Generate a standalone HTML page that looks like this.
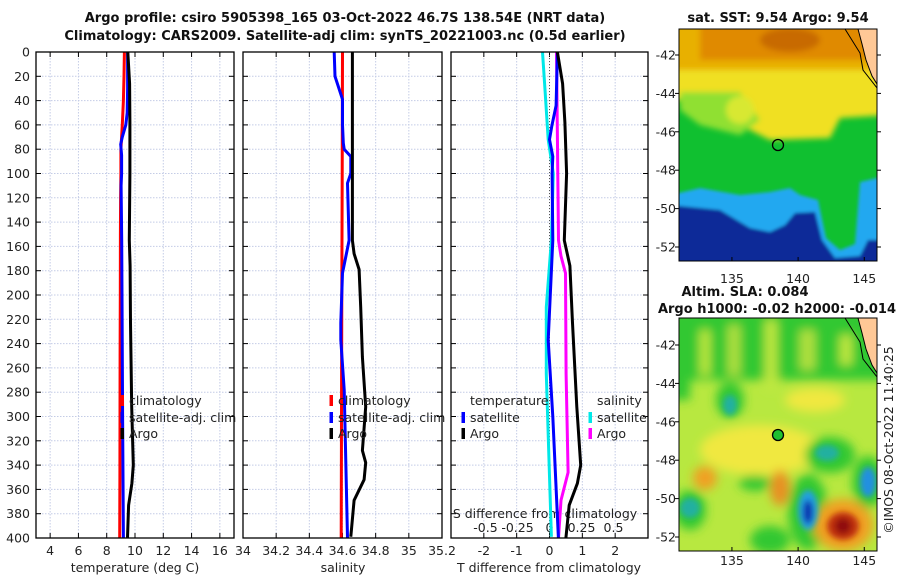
<!DOCTYPE html>
<html><head><meta charset="utf-8">
<style>
body{margin:0;background:#fff;}
svg text{font-family:"DejaVu Sans","Liberation Sans",sans-serif;fill:#222;}
.t{font-size:12.5px;}
.b{font-weight:bold;font-size:13px;fill:#111;}
</style></head>
<body>
<svg id="fig" width="900" height="580" viewBox="0 0 900 580" xmlns="http://www.w3.org/2000/svg">
<defs>
 <filter id="bl" x="-20%" y="-20%" width="140%" height="140%"><feGaussianBlur stdDeviation="3"/></filter>
 <filter id="bl1" x="-20%" y="-20%" width="140%" height="140%"><feGaussianBlur stdDeviation="1.5"/></filter>
 <filter id="bl2" x="-20%" y="-20%" width="140%" height="140%"><feGaussianBlur stdDeviation="5"/></filter>
 <clipPath id="c1"><rect x="679" y="29" width="198" height="232"/></clipPath>
 <clipPath id="c2"><rect x="679" y="318" width="198" height="233"/></clipPath>
</defs>
<text class="b" x="345" y="22" text-anchor="middle">Argo profile: csiro 5905398_165 03-Oct-2022 46.7S 138.54E (NRT data)</text>
<text class="b" x="345" y="40" text-anchor="middle">Climatology: CARS2009. Satellite-adj clim: synTS_20221003.nc (0.5d earlier)</text>

<!-- SST map -->
<g>
<g clip-path="url(#c1)">
 <rect x="679" y="29" width="198" height="232" fill="#10c030"/>
 <g filter="url(#bl)">
  <rect x="670" y="20" width="220" height="75" fill="#e8b000"/>
  <rect x="700" y="20" width="170" height="40" fill="#e08a00"/>
  <ellipse cx="790" cy="40" rx="30" ry="12" fill="#c86a00"/>
  <path d="M670 70 L890 70 L890 115 L840 118 L830 138 L770 140 L740 125 L720 110 L700 100 L670 100 Z" fill="#f0e020"/>
  <path d="M680 92 L740 92 L760 120 L740 135 L700 125 L680 110Z" fill="#90e030"/>
  <ellipse cx="740" cy="110" rx="14" ry="14" fill="#d8e830"/>
 </g>
 <g filter="url(#bl1)">
  <path d="M670 195 L700 188 L740 195 L770 192 L790 188 L800 195 L818 200 L826 238 L840 250 L855 244 L860 182 L890 175 L890 270 L670 270 Z" fill="#20a8f0"/>
  <path d="M670 205 L720 210 L750 228 L770 232 L785 225 L795 213 L815 212 L822 240 L835 258 L860 256 L868 240 L890 240 L890 270 L670 270Z" fill="#102a98"/>
 </g>
 <path d="M858 29 L877 29 L877 84 L872 76 L866 60 L862 44 Z" fill="#ffc896" stroke="#000" stroke-width="1"/>
 <path d="M845 29 L860 53 L863 70 L877 88" fill="none" stroke="#000" stroke-width="1"/>
 <circle cx="778" cy="145" r="5.5" fill="none" stroke="#000" stroke-width="1.3"/>
</g>
<rect x="679" y="29" width="198" height="232" fill="none" stroke="#000" stroke-width="1"/>
<text class="b" x="778" y="22" text-anchor="middle">sat. SST: 9.54 Argo: 9.54</text>
</g>

<!-- SLA map -->
<g>
<g clip-path="url(#c2)">
 <rect x="679" y="318" width="198" height="233" fill="#b8e840"/>
 <g filter="url(#bl2)">
  <rect x="670" y="310" width="220" height="70" fill="#30c830"/>
  <rect x="700" y="330" width="10" height="45" fill="#c0e840"/>
  <rect x="728" y="325" width="12" height="50" fill="#b0e040"/>
  <rect x="765" y="320" width="12" height="70" fill="#c0e840"/>
  <rect x="800" y="330" width="15" height="40" fill="#b0e040"/>
  <rect x="840" y="335" width="12" height="30" fill="#c0e840"/>
  <rect x="670" y="370" width="20" height="30" fill="#30c830"/>
  <ellipse cx="730" cy="400" rx="14" ry="18" fill="#30c830"/>
  <ellipse cx="815" cy="400" rx="30" ry="12" fill="#f0e840"/>
  <ellipse cx="760" cy="450" rx="60" ry="25" fill="#f0e840"/>
  <ellipse cx="830" cy="455" rx="25" ry="18" fill="#30c830"/>
  <ellipse cx="868" cy="482" rx="16" ry="26" fill="#30c830"/>
  <ellipse cx="808" cy="512" rx="20" ry="38" fill="#30c830"/>
  <ellipse cx="690" cy="510" rx="16" ry="20" fill="#30c830"/>
  <ellipse cx="755" cy="483" rx="16" ry="8" fill="#30c830"/>
  <ellipse cx="770" cy="540" rx="20" ry="14" fill="#30c830"/>
  <ellipse cx="705" cy="478" rx="12" ry="12" fill="#f0a020"/>
  <ellipse cx="780" cy="488" rx="10" ry="18" fill="#e89020"/>
  <ellipse cx="843" cy="525" rx="30" ry="26" fill="#f0a020"/>
 </g>
 <g filter="url(#bl)">
  <ellipse cx="730" cy="405" rx="7" ry="10" fill="#20b0a0"/>
  <ellipse cx="827" cy="453" rx="12" ry="8" fill="#20b0a0"/>
  <ellipse cx="868" cy="482" rx="8" ry="15" fill="#2090e0"/>
  <ellipse cx="690" cy="508" rx="10" ry="10" fill="#20b0a0"/>
  <ellipse cx="808" cy="510" rx="10" ry="20" fill="#20a0e0"/>
  <ellipse cx="808" cy="512" rx="5" ry="12" fill="#1030b0"/>
  <ellipse cx="843" cy="526" rx="16" ry="14" fill="#c03010"/>
  <ellipse cx="843" cy="526" rx="8" ry="8" fill="#901010"/>
 </g>
 <path d="M858 318 L877 318 L877 373 L872 365 L866 349 L862 333 Z" fill="#ffc896" stroke="#000" stroke-width="1"/>
 <path d="M845 318 L860 342 L863 359 L877 377" fill="none" stroke="#000" stroke-width="1"/>
 <circle cx="778" cy="435" r="5.5" fill="#20c030" stroke="#000" stroke-width="1.3"/>
</g>
<rect x="679" y="318" width="198" height="233" fill="none" stroke="#000" stroke-width="1"/>
<text class="b" x="745" y="296" text-anchor="middle">Altim. SLA: 0.084</text>
<text class="b" x="777" y="313" text-anchor="middle">Argo h1000: -0.02 h2000: -0.014</text>
</g>
<text class="t" x="0" y="0" transform="translate(893,440) rotate(-90)" text-anchor="middle">©IMOS 08-Oct-2022 11:40:25</text>

<g id="axes"></g>
</svg>
<script>
// ---- data ----
const depthTicks = [0,20,40,60,80,100,120,140,160,180,200,220,240,260,280,300,320,340,360,380,400];
const tempTicks = [4,6,8,10,12,14,16];
const salTicks = [34,34.2,34.4,34.6,34.8,35,35.2];
const salTickLabels = ["34","34.2","34.4","34.6","34.8","35","35.2"];
const tdiffTicks = [-2,-1,0,1,2];
const sdiffTicks = [-0.5,-0.25,0,0.25,0.5];
const sdiffTickLabels = ["-0.5","-0.25","0","0.25","0.5"];
const lonTicks = [135,140,145];
const latTicks = [-42,-44,-46,-48,-50,-52];

const tClimDepth = [0,20,40,60,70,80,100,120,150,200,250,300,350,400];
const tClim = [9.25,9.22,9.18,9.1,9.05,9.0,9.0,8.98,8.97,8.96,8.95,8.94,8.93,8.92];
const tSatDepth = [0,30,50,60,70,76,85,100,110,155,200,300,400];
const tSat = [9.48,9.48,9.45,9.35,9.1,8.99,9.05,9.05,9.02,9.06,9.08,9.12,9.18];
const tArgoDepth = [0,26,58,100,155,176,223,292,340,355,373,400];
const tArgo = [9.49,9.62,9.64,9.64,9.6,9.65,9.68,9.77,9.88,9.78,9.55,9.47];

const sClimDepth = [0,100,200,300,400];
const sClim = [34.600,34.598,34.596,34.594,34.592];
const sSatDepth = [0,20,39,60,75,80,86,100,108,155,182,223,237,278,400];
const sSat = [34.55,34.555,34.60,34.60,34.605,34.61,34.65,34.65,34.63,34.64,34.60,34.59,34.59,34.61,34.63];
const sArgoDepth = [0,155,166,179,210,251,292,328,338,352,369,399];
const sArgo = [34.66,34.66,34.67,34.70,34.71,34.72,34.74,34.72,34.74,34.73,34.67,34.65];

const dTSatDepth = [0,44,61,72,86,100,155,237,300,400];
const dTSat = [0.24,0.2,0.07,0.0,0.1,0.08,0.1,-0.04,0.1,0.27];
const dTArgoDepth = [0,26,58,100,155,176,223,292,340,355,373,400];
const dTArgo = [0.24,0.4,0.47,0.52,0.45,0.62,0.7,0.83,0.95,0.85,0.6,0.5];
const dSSatDepth = [0,31,72,100,155,210,265,399];
const dSSat = [-0.055,-0.035,-0.01,0.03,0.015,-0.025,-0.025,0.015];
const dSArgoDepth = [0,155,168,182,265,346,369,400];
const dSArgo = [0.055,0.07,0.09,0.125,0.13,0.145,0.09,0.07];

// ---- layout ----
const NS = "http://www.w3.org/2000/svg";
const g = document.getElementById('axes');
const TOP = 52, BOT = 538;
function yD(d){ return TOP + d/400*(BOT-TOP); }
function lin(d0,d1,r0,r1){ return v => r0 + (v-d0)/(d1-d0)*(r1-r0); }
const panels = [
 {x0:36,x1:234, sx: lin(3,17,36,234)},
 {x0:243,x1:442, sx: lin(34,35.2,243,442)},
 {x0:451,x1:648, sx: lin(-3,3,451,648)}
];
const sdx = lin(0,0.5,549.5,613.5);
function mk(tag, attrs, parent){
  const e = document.createElementNS(NS, tag);
  for (const k in attrs) e.setAttribute(k, attrs[k]);
  (parent||g).appendChild(e);
  return e;
}
function txt(x,y,s,anchor){
  const e = mk('text',{x:x,y:y,'text-anchor':anchor||'middle','class':'t'});
  e.textContent = s;
  return e;
}

panels.forEach((p,pi)=>{
  depthTicks.forEach(d=>{
    const l = mk('line',{x1:p.x0,x2:p.x1,y1:yD(d),y2:yD(d),stroke:'#c4cce6','stroke-width':1,'stroke-dasharray':'1.5 1.5'});
    
    
    mk('line',{x1:p.x0,x2:p.x0+5,y1:yD(d),y2:yD(d),stroke:'#000'});
    mk('line',{x1:p.x1-5,x2:p.x1,y1:yD(d),y2:yD(d),stroke:'#000'});
  });
});
depthTicks.forEach(d=>{
  const t = txt(30, yD(d)+4.5, String(d), 'end');
  
  
});
function xTicks(p, ticks, labels, name){
  ticks.forEach((v,i)=>{
    const x = p.sx(v);
    const l = mk('line',{x1:x,x2:x,y1:TOP,y2:BOT,stroke:'#c4cce6','stroke-width':1,'stroke-dasharray':'1.5 1.5'});
    
    
    mk('line',{x1:x,x2:x,y1:BOT-5,y2:BOT,stroke:'#000'});
    mk('line',{x1:x,x2:x,y1:TOP,y2:TOP+5,stroke:'#000'});
    const t = txt(x, 555, labels ? labels[i] : String(v));
    
    
  });
}
xTicks(panels[0], tempTicks, null, 'temperature-tick-label');
xTicks(panels[1], salTicks, salTickLabels, 'salinity-tick-label');
xTicks(panels[2], tdiffTicks, null, 't-diff-tick-label');
const z = mk('line',{x1:panels[2].sx(0),x2:panels[2].sx(0),y1:TOP,y2:BOT,stroke:'#555','stroke-width':1,'stroke-dasharray':'1 2'});


sdiffTicks.forEach((v,i)=>{
  const t = txt(sdx(v), 532, sdiffTickLabels[i]);
  
  
});
const sdt = txt(545, 518, 'S difference from climatology');



function series(p, xs, ds, color, name, sx){
  const f = sx || p.sx;
  const pts = xs.map((v,i)=> f(v).toFixed(1)+','+yD(ds[i]).toFixed(1)).join(' ');
  const e = mk('polyline',{points:pts,fill:'none',stroke:color,'stroke-width':3,'stroke-linejoin':'round'});
  
  
}
series(panels[0], tClim, tClimDepth, '#ff0000', 'temp-climatology-line');
series(panels[0], tSat, tSatDepth, '#0000ff', 'temp-satellite-line');
series(panels[0], tArgo, tArgoDepth, '#000', 'temp-argo-line');
series(panels[1], sClim, sClimDepth, '#ff0000', 'sal-climatology-line');
series(panels[1], sSat, sSatDepth, '#0000ff', 'sal-satellite-line');
series(panels[1], sArgo, sArgoDepth, '#000', 'sal-argo-line');
series(panels[2], dSSat, dSSatDepth, '#00e8e8', 's-diff-satellite-line', sdx);
series(panels[2], dSArgo, dSArgoDepth, '#ff00ff', 's-diff-argo-line', sdx);
series(panels[2], dTSat, dTSatDepth, '#0000ff', 't-diff-satellite-line');
series(panels[2], dTArgo, dTArgoDepth, '#000', 't-diff-argo-line');

panels.forEach(p=>{
  const r = mk('rect',{x:p.x0,y:TOP,width:p.x1-p.x0,height:BOT-TOP,fill:'none',stroke:'#000','stroke-width':1.3});
  
  
});

function legend(x, y, color, label){
  const m = mk('rect',{x:x-1.5,y:y-10,width:3.5,height:11,fill:color});
  
  
  const t = txt(x+7, y, label, 'start');
  
  
}
legend(122,405,'#ff0000','climatology');
legend(122,422,'#0000ff','satellite-adj. clim');
legend(122,438,'#000','Argo');
legend(331,405,'#ff0000','climatology');
legend(331,422,'#0000ff','satellite-adj. clim');
legend(331,438,'#000','Argo');
const lt = txt(470,405,'temperature','start');


legend(463,422,'#0000ff','satellite');
legend(463,438,'#000','Argo');
const ls = txt(597,405,'salinity','start');


legend(590,422,'#00e8e8','satellite');
legend(590,438,'#ff00ff','Argo');

[[135,'temperature (deg C)','temperature-axis-title'],[343,'salinity','salinity-axis-title'],[549,'T difference from climatology','t-diff-axis-title']].forEach(a=>{
  const t = txt(a[0], 572, a[1]);
  
  
});

const lonX = lin(131,146,679,877.5);
const lat1 = lin(-42,-52,55,247);
const lat2 = lin(-42,-52,345,537);
[[283,261,29],[565,551,318]].forEach(m=>{
  lonTicks.forEach(v=>{
    const x = lonX(v);
    mk('line',{x1:x,x2:x,y1:m[1]-4,y2:m[1],stroke:'#000'});
    const t = txt(x, m[0], String(v));
    
    
  });
});
[lat1,lat2].forEach(f=>{
  latTicks.forEach(v=>{
    const y = f(v);
    mk('line',{x1:877,x2:881,y1:y,y2:y,stroke:'#000'});
    mk('line',{x1:675,x2:679,y1:y,y2:y,stroke:'#000'});
    const t = txt(676, y+4.5, String(v), 'end');
    
    
  });
});
</script>
</body></html>
